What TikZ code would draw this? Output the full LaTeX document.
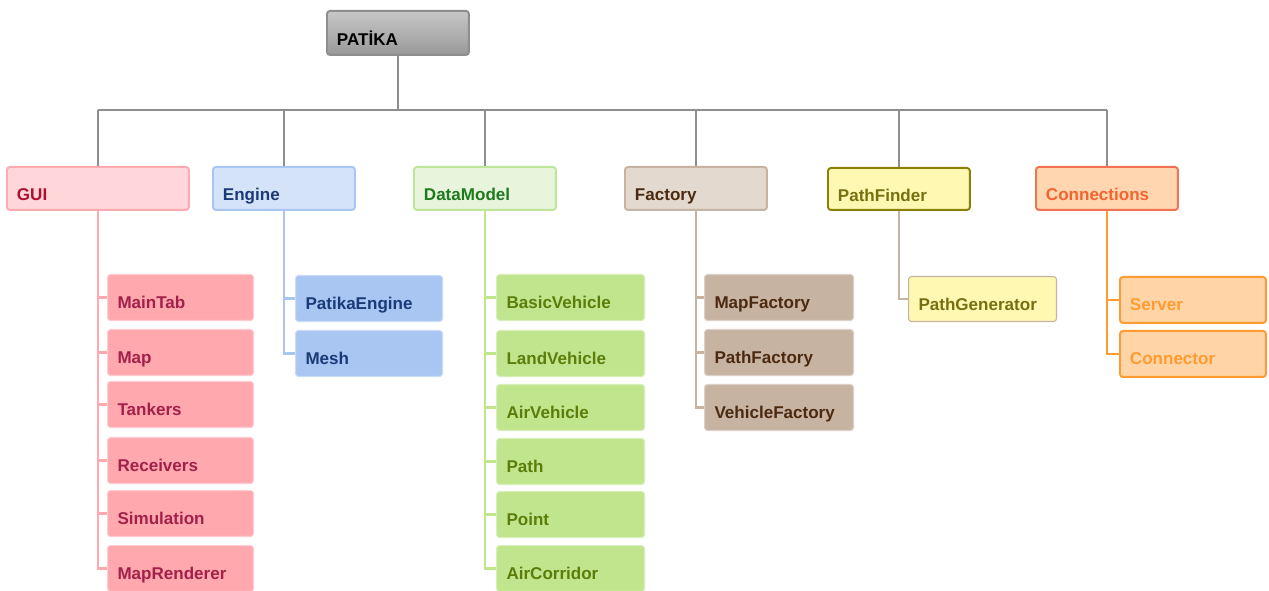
\documentclass[tikz,border=0pt]{standalone}
\usepackage{fontspec}
\setmainfont{Liberation Sans}

\definecolor{busgray}{HTML}{8E8E8E}
\definecolor{guiF}{HTML}{FFD6DA}\definecolor{guiD}{HTML}{FFAAB0}\definecolor{guiT}{HTML}{B0102E}
\definecolor{guikF}{HTML}{FFA9AE}\definecolor{guikT}{HTML}{A3204B}
\definecolor{engF}{HTML}{D4E3F8}\definecolor{engD}{HTML}{A9C5F2}\definecolor{engT}{HTML}{1B3A78}
\definecolor{dmF}{HTML}{E8F5DC}\definecolor{dmD}{HTML}{BEE69A}\definecolor{dmT}{HTML}{1E7A1E}
\definecolor{dmkF}{HTML}{C0E58C}\definecolor{dmkT}{HTML}{5C7D0A}
\definecolor{facF}{HTML}{E4D9CF}\definecolor{facD}{HTML}{C7B3A2}\definecolor{facT}{HTML}{4B2A10}
\definecolor{pfF}{HTML}{FFF8B2}\definecolor{pfD}{HTML}{8A8008}\definecolor{pfT}{HTML}{787010}
\definecolor{conF}{HTML}{FFD6B0}\definecolor{conD}{HTML}{F27252}\definecolor{conT}{HTML}{F26430}
\definecolor{conkF}{HTML}{FFD5A8}\definecolor{conkD}{HTML}{FF9B30}

\tikzset{
  lvl/.style={draw, rounded corners=1.7pt, line width=1.1pt, anchor=north west,
    inner xsep=0.2cm, inner ysep=0pt, align=left, text width=2.44cm,
    minimum height=0.86cm, text height=0.5cm, text depth=0pt},
  kid/.style={draw, rounded corners=1.7pt, line width=0.6pt, anchor=north west,
    inner xsep=0.2cm, inner ysep=0pt, align=left, text width=2.52cm,
    minimum height=0.92cm, text height=0.44cm, text depth=0pt},
  busline/.style={draw=busgray, line width=1.3pt},
  kidline/.style={line width=1.4pt},
}

\begin{document}
\begin{tikzpicture}[x=0.02cm, y=-0.02cm, font=\bfseries\fontsize{9.7}{11}\selectfont]
  \useasboundingbox (0,0) rectangle (1269,591);

  % root and first level
  \node[lvl, draw=busgray, top color=black!22, bottom color=black!40, text height=0.52cm, minimum height=0.88cm] (patika) at (326,10) {PATİKA};
  \coordinate (bus) at (0,110);

  \node[lvl, fill=guiF, draw=guiD, text=guiT, text width=3.24cm] (gui) at (6,166) {GUI};
  \node[lvl, fill=engF, draw=engD, text=engT] (engine) at (212,166) {Engine};
  \node[lvl, fill=dmF, draw=dmD, text=dmT] (datamodel) at (413,166) {DataModel};
  \node[lvl, fill=facF, draw=facD, text=facT] (factory) at (624,166) {Factory};
  \node[lvl, fill=pfF, draw=pfD, text=pfT, minimum height=0.84cm] (pathfinder) at (827,167) {PathFinder};
  \node[lvl, fill=conF, draw=conD, text=conT] (connections) at (1035,166) {Connections};

  \draw[busline] (patika) -- (patika |- bus);
  \draw[busline] (gui |- bus) -- (connections |- bus);
  \foreach \n in {gui, engine, datamodel, factory, pathfinder, connections}
    \draw[busline] (\n) -- (\n |- bus);

  % second level
  \foreach \k/\y in {MainTab/274, Map/329, Tankers/381, Receivers/437, Simulation/490, MapRenderer/545}
  {
    \node[kid, fill=guikF, draw=guikF!60!white, text=guikT] (\k) at (107,\y) {\k};
    \draw[kidline, guiD] (gui) |- (\k);
  }

  \foreach \k/\y in {PatikaEngine/275, Mesh/330}
  {
    \node[kid, fill=engD, draw=engD!60!white, text=engT, text width=2.54cm] (\k) at (295,\y) {\k};
    \draw[kidline, engD] (engine) |- (\k);
  }

  \foreach \k/\y in {BasicVehicle/274, LandVehicle/330, AirVehicle/384, Path/438, Point/491, AirCorridor/545}
  {
    \node[kid, fill=dmkF, draw=dmkF!60!white, text=dmkT, text width=2.56cm] (\k) at (496,\y) {\k};
    \draw[kidline, dmkF] (datamodel) |- (\k);
  }

  \foreach \k/\y in {MapFactory/274, PathFactory/329, VehicleFactory/384}
  {
    \node[kid, fill=facD, draw=facD!60!white, text=facT, text width=2.58cm] (\k) at (704,\y) {\k};
    \draw[kidline, facD] (factory) |- (\k);
  }

  \node[kid, fill=pfF, draw=facD, text=pfT, text width=2.56cm, minimum height=0.9cm] (pathgen) at (908,276) {PathGenerator};
  \draw[kidline, facD] (pathfinder) |- (pathgen);

  \foreach \k/\y in {Server/276, Connector/330}
  {
    \node[kid, fill=conkF, draw=conkD, line width=1.1pt, text=conkD] (\k) at (1119,\y) {\k};
    \draw[kidline, conkD] (connections) |- (\k);
  }
\end{tikzpicture}
\end{document}
